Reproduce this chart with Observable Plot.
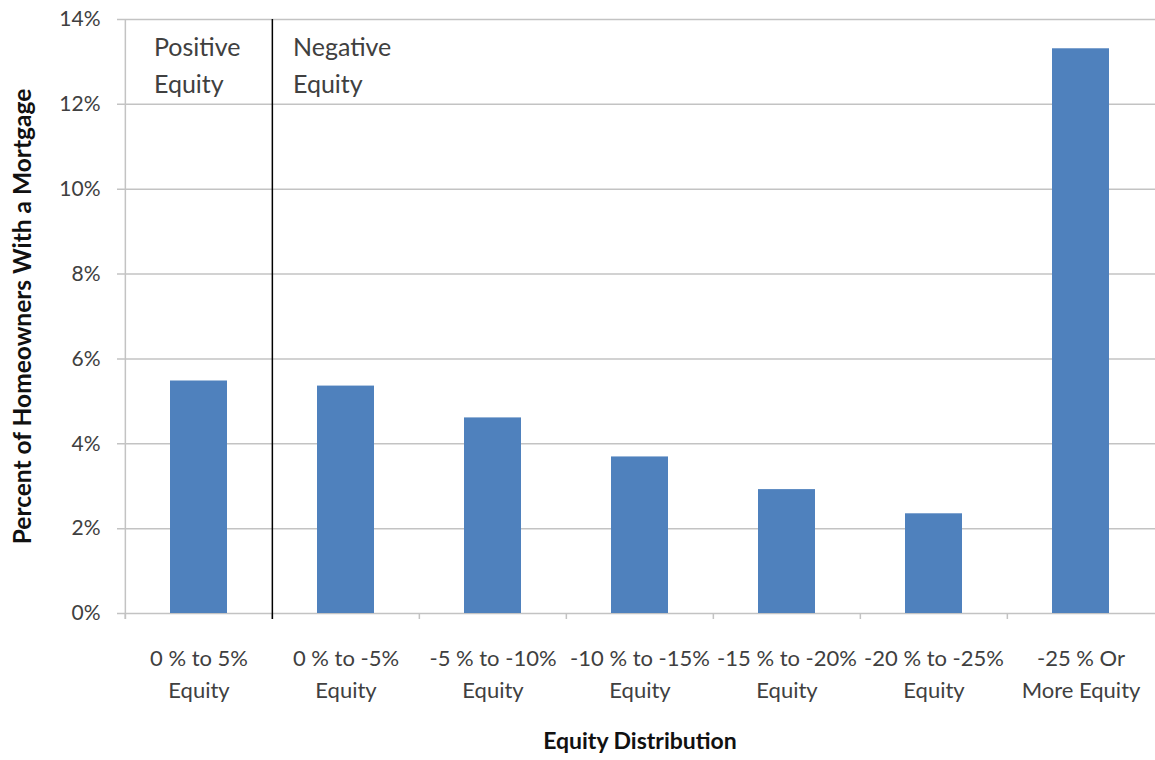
<!DOCTYPE html>
<html>
<head>
<meta charset="utf-8">
<script src="https://cdn.jsdelivr.net/npm/d3@7"></script>
<script src="https://cdn.jsdelivr.net/npm/@observablehq/plot@0.6"></script>
<style>
  html, body { margin: 0; padding: 0; background: #fff; }
  #chart svg { display: block; }
</style>
</head>
<body>
<div id="chart"></div>
<script>
// ---- data ----
const categories = ["0-5", "0--5", "-5--10", "-10--15", "-15--20", "-20--25", "-25+"];
const xTickLabels = [
  "0 % to 5%\nEquity",
  "0 % to -5%\nEquity",
  "-5 % to -10%\nEquity",
  "-10 % to -15%\nEquity",
  "-15 % to -20%\nEquity",
  "-20 % to -25%\nEquity",
  "-25 % Or\nMore Equity"
];
const values = [5.48, 5.36, 4.61, 3.69, 2.92, 2.35, 13.31];
const yTicks = [0, 2, 4, 6, 8, 10, 12, 14];
const yTickLabels = ["0%", "2%", "4%", "6%", "8%", "10%", "12%", "14%"];
const positiveNote = "Positive\nEquity";
const negativeNote = "Negative\nEquity";
const positiveCategory = categories[0];
const negativeCategory = categories[1];
const xTitle = "Equity Distribution";
const yTitle = "Percent of Homeowners With a Mortgage";

// ---- layout ----
const width = 1155, height = 760;
const marginLeft = 124, marginRight = 0, marginTop = 19, marginBottom = 147;
const step = (width - marginLeft - marginRight) / categories.length;
const data = categories.map((c, i) => ({category: c, value: values[i]}));
const gridColor = "#c3c3c3";
const textColor = "#404040";
const yMax = yTicks[yTicks.length - 1];

const chart = Plot.plot({
  width, height, marginLeft, marginRight, marginTop, marginBottom,
  style: {fontFamily: "Lato, 'Open Sans', sans-serif", background: "#fff", overflow: "visible"},
  x: {domain: categories, paddingInner: 0.61, paddingOuter: 0.305, align: 0.5},
  y: {domain: [0, yMax]},
  marks: [
    // horizontal gridlines with small left ticks
    Plot.ruleY(yTicks, {stroke: gridColor, strokeWidth: 1.5, insetLeft: -7}),
    // left axis line
    Plot.ruleX([categories[0]], {x: d => d, y1: yMax, y2: 0, dx: -step / 2, insetBottom: -6, stroke: gridColor, strokeWidth: 1.5}),
    // category boundary ticks below axis
    Plot.ruleX(categories, {x: d => d, y1: 0, y2: 0, dx: -step / 2, insetBottom: -6, stroke: gridColor, strokeWidth: 1.5}),
    // bars
    Plot.barY(data, {x: "category", y: "value", fill: "#4f81bd"}),
    // divider between positive and negative equity
    Plot.ruleX([negativeCategory], {x: d => d, y1: yMax, y2: 0, dx: -step / 2, insetBottom: -6, stroke: "#000", strokeWidth: 1.5}),
    // annotations
    Plot.text([positiveNote], {x: () => positiveCategory, text: d => d, frameAnchor: "top", lineAnchor: "top", textAnchor: "start",
      dx: -45, dy: 11, fontSize: 25, lineHeight: 1.46, fill: textColor}),
    Plot.text([negativeNote], {x: () => negativeCategory, text: d => d, frameAnchor: "top", lineAnchor: "top", textAnchor: "start",
      dx: -53, dy: 11, fontSize: 25, lineHeight: 1.46, fill: textColor}),
    // axes
    Plot.axisY(yTicks, {tickSize: 0, tickPadding: 24, tickFormat: d => yTickLabels[yTicks.indexOf(d)],
      fontSize: 21, fill: textColor, label: null}),
    Plot.axisX({tickSize: 0, tickPadding: 30, tickFormat: d => xTickLabels[categories.indexOf(d)],
      fontSize: 22, lineHeight: 1.45, fill: textColor, label: null}),
    // axis titles
    Plot.text([xTitle], {text: d => d, frameAnchor: "bottom", lineAnchor: "top", dy: 119,
      fontSize: 23, fontWeight: "bold", fill: "#111"}),
    Plot.text([yTitle], {text: d => d, frameAnchor: "left", textAnchor: "middle", rotate: -90, dx: -101,
      fontSize: 24.5, fontWeight: "bold", fill: "#111"})
  ]
});

document.getElementById("chart").appendChild(chart);
</script>
</body>
</html>
